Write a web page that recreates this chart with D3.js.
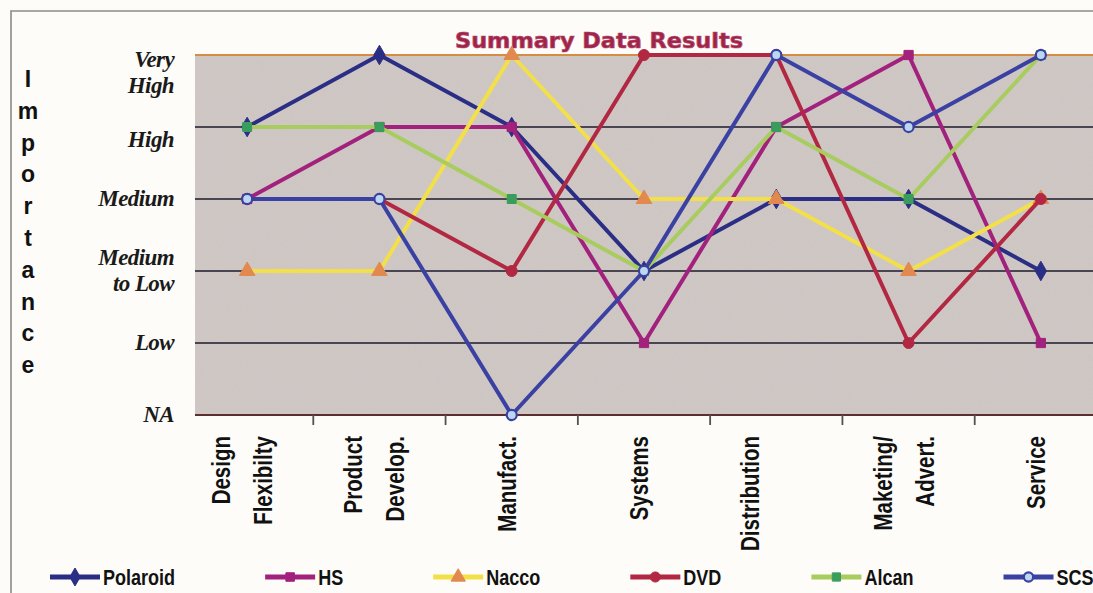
<!DOCTYPE html>
<html>
<head>
<meta charset="utf-8">
<script src="https://cdn.jsdelivr.net/npm/d3@7"></script>
<style>
  html, body { margin: 0; padding: 0; background: #fdfcf8; }
  svg { display: block; }
</style>
</head>
<body>
<script>
// Categories along the x axis ("\n" separates label lines)
const categories = [
  "Design\nFlexibilty",
  "Product\nDevelop.",
  "Manufact.",
  "Systems",
  "Distribution\n",
  "Maketing/\nAdvert.",
  "Service"
];

// Importance scale, lowest to highest
const levels = ["NA", "Low", "Medium\nto Low", "Medium", "\nHigh", "Very\nHigh"];

// Importance ratings per company (index into levels)
const polaroid = [4, 5, 4, 2, 3, 3, 2];
const hs       = [3, 4, 4, 1, 4, 5, 1];
const nacco    = [2, 2, 5, 3, 3, 2, 3];
const dvd      = [3, 3, 2, 5, 5, 1, 3];
const alcan    = [4, 4, 3, 2, 4, 3, 5];
const scs      = [3, 3, 0, 2, 5, 4, 5];

const seriesNames = ["Polaroid", "HS", "Nacco", "DVD", "Alcan", "SCS"];
const seriesValues = [polaroid, hs, nacco, dvd, alcan, scs];

const styles = {
  Polaroid: { line: "#2b2e85", fill: "#2b2e85", stroke: "#2b2e85", symbol: d3.symbolDiamond, size: 110 },
  HS:       { line: "#a2217c", fill: "#a2217c", stroke: "#a2217c", symbol: d3.symbolSquare,  size: 85 },
  Nacco:    { line: "#f3e048", fill: "#e2894f", stroke: "#e2894f", symbol: d3.symbolTriangle, size: 105 },
  DVD:      { line: "#b22741", fill: "#b22741", stroke: "#b22741", symbol: d3.symbolCircle,  size: 95 },
  Alcan:    { line: "#a8cc5e", fill: "#3a9d5d", stroke: "#3a9d5d", symbol: d3.symbolSquare,  size: 80 },
  SCS:      { line: "#3a41a2", fill: "#bcd8f0", stroke: "#3a41a2", symbol: d3.symbolCircle,  size: 80 }
};

const W = 1093, H = 593;
const plot = { left: 195, right: 1100, top: 55, bottom: 415 };
const narrow = 0.82; // horizontal squeeze for the condensed sans labels
const sansFont = "'Liberation Sans Narrow', 'Arial Narrow', 'Liberation Sans', sans-serif";

const svg = d3.select("body").append("svg")
  .attr("width", W).attr("height", H);

// grain for the plot background
const defs = svg.append("defs");
const f = defs.append("filter").attr("id", "grain")
  .attr("x", 0).attr("y", 0).attr("width", "100%").attr("height", "100%");
f.append("feTurbulence").attr("type", "fractalNoise").attr("baseFrequency", 0.9)
  .attr("numOctaves", 2).attr("seed", 4).attr("result", "noise");
f.append("feColorMatrix").attr("in", "noise").attr("type", "matrix")
  .attr("values", "0 0 0 0 0.5  0 0 0 0 0.44  0 0 0 0 0.44  0 0 0 0.2 0")
  .attr("result", "tint");
f.append("feComposite").attr("in", "tint").attr("in2", "SourceGraphic").attr("operator", "in");

// outer frame
svg.append("path")
  .attr("d", `M11,${H + 2} V11 H${W + 2}`)
  .attr("fill", "none").attr("stroke", "#8d8a88").attr("stroke-width", 1.6);

const x = d3.scaleBand().domain(categories).range([181, 1107]);
const cx = c => x(c) + x.bandwidth() / 2;
const y = d3.scaleLinear().domain([0, levels.length - 1]).range([plot.bottom, plot.top]);

// plot area
svg.append("rect")
  .attr("x", plot.left).attr("y", plot.top)
  .attr("width", plot.right - plot.left).attr("height", plot.bottom - plot.top)
  .attr("fill", "#d0c9c6");
svg.append("rect")
  .attr("x", plot.left).attr("y", plot.top)
  .attr("width", plot.right - plot.left).attr("height", plot.bottom - plot.top)
  .attr("fill", "#d0c9c6").attr("filter", "url(#grain)");

// horizontal gridlines at each level
svg.append("g").selectAll("line")
  .data(d3.range(levels.length))
  .join("line")
  .attr("x1", plot.left).attr("x2", plot.right)
  .attr("y1", d => y(d)).attr("y2", d => y(d))
  .attr("stroke", d => d === levels.length - 1 ? "#d58d45" : d === 0 ? "#5b2e30" : "#4a4552")
  .attr("stroke-width", d => d === 0 ? 2.2 : 2);

// category tick marks between bands
svg.append("g").selectAll("line")
  .data(categories.slice(1))
  .join("line")
  .attr("x1", d => x(d)).attr("x2", d => x(d))
  .attr("y1", plot.bottom).attr("y2", plot.bottom + 10)
  .attr("stroke", "#55504f").attr("stroke-width", 1.8);

// category labels, rotated
const catLineGap = 42;
const catG = svg.append("g").selectAll("text")
  .data(categories)
  .join("text")
  .attr("transform", d => `translate(${cx(d) - 5},436) rotate(-90) scale(${narrow},1)`)
  .attr("text-anchor", "end")
  .attr("font-family", sansFont)
  .attr("font-weight", "bold")
  .attr("font-size", 25)
  .attr("fill", "#111");
catG.each(function (d) {
  const lines = d.split("\n");
  const n = lines.length;
  d3.select(this).selectAll("tspan")
    .data(lines)
    .join("tspan")
    .attr("x", 0)
    .attr("y", (l, i) => (i - (n - 1) / 2) * catLineGap + 9)
    .text(l => l);
});

// level labels on the left
const lvlLine = 26;
svg.append("g").selectAll("text")
  .data(levels)
  .join("text")
  .attr("text-anchor", "end")
  .attr("font-family", "'Liberation Serif', 'Times New Roman', serif")
  .attr("font-style", "italic")
  .attr("font-weight", "bold")
  .attr("font-size", 23)
  .attr("letter-spacing", -0.6)
  .attr("fill", "#1a1a1a")
  .each(function (d, i) {
    const lines = d.split("\n");
    const n = lines.length;
    let top = y(i) - (n * lvlLine) / 2;
    top = Math.max(top, plot.top - 8);
    d3.select(this).selectAll("tspan")
      .data(lines)
      .join("tspan")
      .attr("x", 174)
      .attr("y", (l, k) => top + k * lvlLine + lvlLine / 2 + 7)
      .text(l => l);
  });

// vertical axis title, one letter per row
const axisTitle = "Importance";
svg.append("text")
  .attr("font-family", "'Liberation Sans', Arial, sans-serif")
  .attr("font-weight", "bold")
  .attr("font-size", 23)
  .attr("text-anchor", "middle")
  .attr("fill", "#111")
  .selectAll("tspan")
  .data(axisTitle.split(""))
  .join("tspan")
  .attr("x", 28)
  .attr("y", (c, i) => 87 + i * 31.8)
  .text(c => c);

// chart title
svg.append("text")
  .attr("x", 599).attr("y", 48)
  .attr("text-anchor", "middle")
  .attr("font-family", "'DejaVu Sans', sans-serif")
  .attr("font-weight", "bold")
  .attr("font-size", 21)
  .attr("textLength", 288)
  .attr("lengthAdjust", "spacingAndGlyphs")
  .attr("fill", "#9e2449")
  .attr("stroke", "#b84a6c").attr("stroke-width", 0.7)
  .text("Summary Data Results");

// series lines and markers
const line = d3.line()
  .x((v, i) => cx(categories[i]))
  .y(v => y(v));

const seriesG = svg.append("g").selectAll("g")
  .data(seriesNames.map((name, k) => ({ name, values: seriesValues[k] })))
  .join("g");

seriesG.each(function (s) {
  const st = styles[s.name];
  const g = d3.select(this);
  g.append("path")
    .attr("d", line(s.values))
    .attr("fill", "none")
    .attr("stroke", st.line)
    .attr("stroke-width", 4)
    .attr("stroke-linejoin", "round");
  g.selectAll("path.mk")
    .data(s.values)
    .join("path")
    .attr("class", "mk")
    .attr("transform", (v, i) => `translate(${cx(categories[i])},${y(v)})`)
    .attr("d", d3.symbol().type(st.symbol).size(st.size))
    .attr("fill", st.fill)
    .attr("stroke", st.stroke)
    .attr("stroke-width", s.name === "SCS" ? 2.2 : 1);
});

// legend, laid out left to right
const legend = svg.append("g");
let lx = 50;
const legendGap = 90;
seriesNames.forEach(name => {
  const st = styles[name];
  const item = legend.append("g");
  item.append("line")
    .attr("x1", lx).attr("x2", lx + 50)
    .attr("y1", 577).attr("y2", 577)
    .attr("stroke", st.line).attr("stroke-width", 5);
  item.append("path")
    .attr("transform", `translate(${lx + 25},577)`)
    .attr("d", d3.symbol().type(st.symbol).size(st.size * 0.85))
    .attr("fill", st.fill)
    .attr("stroke", st.stroke)
    .attr("stroke-width", name === "SCS" ? 2.2 : 1);
  const t = item.append("text")
    .attr("transform", `translate(${lx + 53},585) scale(${narrow},1)`)
    .attr("font-family", sansFont)
    .attr("font-weight", "bold")
    .attr("font-size", 22)
    .attr("fill", "#111")
    .text(name);
  lx = lx + 53 + t.node().getComputedTextLength() * narrow + legendGap;
});
</script>
</body>
</html>
